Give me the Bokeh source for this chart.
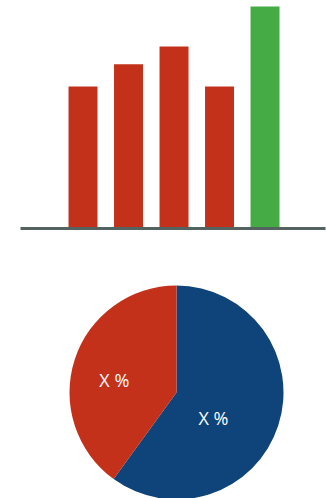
import math
from bokeh.plotting import figure
from bokeh.layouts import column
from bokeh.models import Range1d, ColumnDataSource
from bokeh.core.properties import value
from bokeh.embed import file_html
from bokeh.resources import INLINE

# ---- data ----
bar_index = [1, 2, 3, 4, 5]
bar_values = [64, 74, 82, 64, 100]
bar_colors = ["#c4311a", "#c4311a", "#c4311a", "#c4311a", "#45ab45"]

pie_labels = ["X %", "X %"]
pie_shares = [60, 40]
pie_colors = ["#0e4479", "#c4311a"]

# ---- bar chart ----
p1 = figure(width=326, height=240, output_backend="svg", toolbar_location=None,
            x_range=Range1d(-0.374, 6.329), y_range=Range1d(0, 102.7),
            min_border_left=20, min_border_right=1, min_border_top=0, min_border_bottom=12)
p1.vbar(x=bar_index, top=bar_values, width=0.637, color=bar_colors, line_color=None)
p1.yaxis.visible = False
p1.xgrid.visible = False
p1.ygrid.visible = False
p1.outline_line_color = None
ax = p1.xaxis[0]
ax.axis_line_color = "#556360"
ax.axis_line_width = 3
ax.major_tick_line_color = None
ax.minor_tick_line_color = None
ax.major_label_text_font_size = "0px"
ax.major_label_text_color = None

# ---- pie chart ----
R = 107.0  # pixels per unit radius
p2 = figure(width=326, height=258, output_backend="svg", toolbar_location=None,
            x_range=Range1d(-156 / R, 149 / R), y_range=Range1d(-106 / R, 152 / R),
            min_border_left=20, min_border_right=1, min_border_top=0, min_border_bottom=0)
p2.axis.visible = False
p2.grid.visible = False
p2.outline_line_color = None

total = sum(pie_shares)
starts, ends = [], []
a = math.pi / 2
for s in pie_shares:
    starts.append(a)
    a -= 2 * math.pi * s / total
    ends.append(a)
src = ColumnDataSource(dict(start=starts, end=ends, color=pie_colors))
p2.wedge(x=0, y=0, radius=1, start_angle="start", end_angle="end", direction="clock",
         fill_color="color", line_color=None, source=src)

label_x = [0.346, -0.581]
label_y = [-0.234, 0.117]
p2.text(x=label_x, y=label_y, text=pie_labels, text_color="white",
        text_font=value("Open Sans"), text_font_size="18px",
        text_align="center", text_baseline="middle")

layout = column(p1, p2, spacing=0)
open("out.html", "w").write(file_html(layout, INLINE))
